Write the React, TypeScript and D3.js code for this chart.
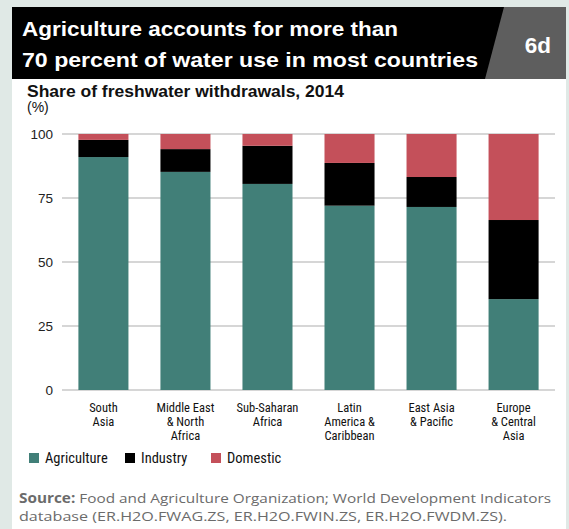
import React from "react";
import * as d3 from "d3";

const categories = [
  "South Asia",
  "Middle East & North Africa",
  "Sub-Saharan Africa",
  "Latin America & Caribbean",
  "East Asia & Pacific",
  "Europe & Central Asia",
];
const categoryLines = [
  ["South", "Asia"],
  ["Middle East", "& North", "Africa"],
  ["Sub-Saharan", "Africa"],
  ["Latin", "America &", "Caribbean"],
  ["East Asia", "& Pacific"],
  ["Europe", "& Central", "Asia"],
];
const agriculture = [91, 85.2, 80.5, 72, 71.5, 35.5];
const industry = [6.7, 8.9, 14.9, 16.7, 11.7, 30.9];
const domestic = [2.3, 5.9, 4.6, 11.3, 16.8, 33.6];
const seriesNames = ["Agriculture", "Industry", "Domestic"];
const seriesColors = ["#417f78", "#000000", "#c4505a"];
const yTicks = [0, 25, 50, 75, 100];

const W = 569;
const H = 529;
const NARROW = "'Liberation Sans Narrow', 'Arial Narrow', 'Roboto Condensed', 'Liberation Sans', sans-serif";
const SANS = "'Liberation Sans', Arial, sans-serif";

export default function App() {
  const rows = categories.map((c, i) => ({
    cat: c,
    Agriculture: agriculture[i],
    Industry: industry[i],
    Domestic: domestic[i],
  }));
  const stack = d3.stack<any>().keys(seriesNames)(rows);
  const x = d3.scaleBand().domain(categories).range([62, 555]).paddingInner(0.39).paddingOuter(0.2);
  const y = d3.scaleLinear().domain([0, 100]).range([390, 134]);

  const legendX = [29, 125, 211];

  return (
    <svg width={W} height={H} style={{ position: "absolute", left: 0, top: 0, display: "block" }}>
      <rect x={0} y={0} width={W} height={H} fill="#e0e9e6" />
      <rect x={12} y={7} width={554} height={522} fill="#ffffff" />
      {/* title banner */}
      <rect x={12} y={7} width={554} height={72} fill="#000000" />
      <polygon points={`504,7 566,7 566,79 485,79`} fill="#5e5e5e" />
      <text x={22} y={36} fill="#fff" fontFamily={SANS} fontWeight="bold" fontSize={20.5} textLength={376} lengthAdjust="spacingAndGlyphs">
        Agriculture accounts for more than
      </text>
      <text x={22} y={67} fill="#fff" fontFamily={SANS} fontWeight="bold" fontSize={20.5} textLength={456} lengthAdjust="spacingAndGlyphs">
        70 percent of water use in most countries
      </text>
      <text x={538} y={53} fill="#fff" fontFamily={SANS} fontWeight="bold" fontSize={22.5} textAnchor="middle">
        6d
      </text>
      {/* subtitle */}
      <text x={27} y={97} fill="#111" fontFamily={SANS} fontWeight={600} fontSize={16} textLength={317} lengthAdjust="spacingAndGlyphs">
        Share of freshwater withdrawals, 2014
      </text>
      <text x={27} y={112} fill="#111" fontFamily={SANS} fontSize={14}>
        (%)
      </text>
      {/* grid */}
      {yTicks.map((t) => (
        <g key={t}>
          <line x1={62} x2={555} y1={y(t)} y2={y(t)} stroke="#c8c8c8" strokeWidth={1.5} />
          <text x={53} y={y(t)} dy="0.35em" textAnchor="end" fill="#222" fontFamily={SANS} fontSize={13.5}>
            {t}
          </text>
        </g>
      ))}
      {/* bars */}
      {stack.map((s, si) => (
        <g key={s.key} fill={seriesColors[si]}>
          {s.map((d, i) => (
            <rect
              key={i}
              x={x(categories[i])}
              width={x.bandwidth()}
              y={y(d[1])}
              height={y(d[0]) - y(d[1])}
            />
          ))}
        </g>
      ))}
      {/* x labels */}
      {categories.map((c, i) => (
        <text key={c} textAnchor="middle" fill="#111" fontFamily={NARROW} fontSize={12.5}>
          {categoryLines[i].map((l, li) => (
            <tspan key={li} x={(x(c) as number) + x.bandwidth() / 2} y={411.5 + li * 14}>
              {l}
            </tspan>
          ))}
        </text>
      ))}
      {/* legend */}
      {seriesNames.map((n, i) => (
        <g key={n}>
          <rect x={legendX[i]} y={453} width={10} height={10} fill={seriesColors[i]} />
          <text x={legendX[i] + 16} y={463} fill="#111" fontFamily={NARROW} fontSize={14.5}>
            {n}
          </text>
        </g>
      ))}
      {/* source */}
      <text x={19} y={503} fill="#6b6b6b" fontFamily="'Open Sans', 'Noto Sans', sans-serif" fontSize={13.5} textLength={532} lengthAdjust="spacingAndGlyphs">
        <tspan fontWeight="bold">Source:</tspan> Food and Agriculture Organization; World Development Indicators
      </text>
      <text x={19} y={521} fill="#6b6b6b" fontFamily="'Open Sans', 'Noto Sans', sans-serif" fontSize={13.5} textLength={488} lengthAdjust="spacingAndGlyphs">
        database (ER.H2O.FWAG.ZS, ER.H2O.FWIN.ZS, ER.H2O.FWDM.ZS).
      </text>
    </svg>
  );
}
